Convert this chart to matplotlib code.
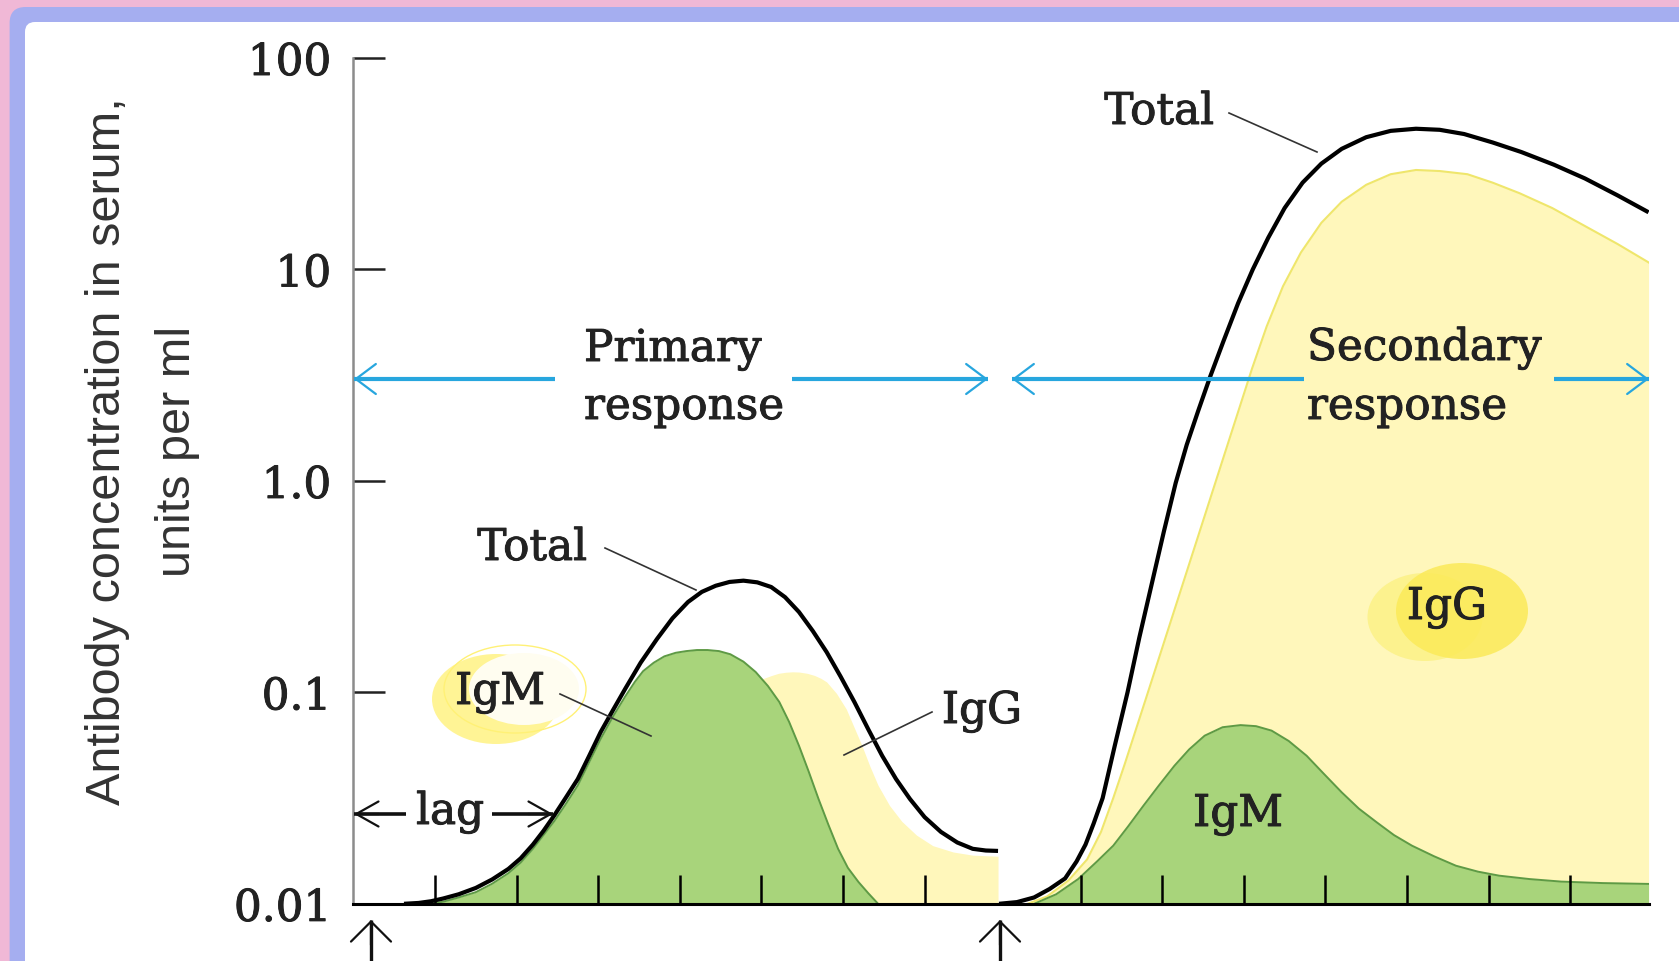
import numpy as np
import matplotlib
matplotlib.use('Agg')
import matplotlib.pyplot as plt
import matplotlib.patheffects as pe
from matplotlib.transforms import Affine2D
from matplotlib.patches import Ellipse, FancyBboxPatch, FancyArrowPatch
from matplotlib.lines import Line2D
from matplotlib.ticker import NullLocator

# --- data: time in tick units, log10(antibody units/ml) ---
primary_total_t = [0.62, 0.80, 0.95, 1.10, 1.29, 1.50, 1.70, 1.90, 2.05, 2.20, 2.33, 2.46, 2.60,
                   2.75, 2.89, 3.03, 3.18, 3.33, 3.52, 3.72, 3.91, 4.10, 4.27, 4.44, 4.61, 4.78,
                   4.95, 5.12, 5.29, 5.46, 5.63, 5.80, 5.97, 6.14, 6.31, 6.48, 6.65, 6.82, 7.00,
                   7.20, 7.40, 7.59, 7.75, 7.90]
primary_total_log = [-2.0, -1.996, -1.988, -1.975, -1.955, -1.925, -1.885, -1.835, -1.785, -1.72,
                     -1.655, -1.583, -1.50, -1.41, -1.30, -1.188, -1.085, -0.984, -0.86, -0.748,
                     -0.65, -0.573, -0.525, -0.496, -0.478, -0.472, -0.48, -0.502, -0.55, -0.62,
                     -0.71, -0.81, -0.925, -1.046, -1.175, -1.30, -1.41, -1.504, -1.59, -1.66,
                     -1.71, -1.74, -1.748, -1.75]

primary_igm_t = [0.95, 1.10, 1.29, 1.50, 1.70, 1.90, 2.05, 2.20, 2.33, 2.46, 2.60, 2.75, 2.89,
                 3.03, 3.18, 3.33, 3.45, 3.55, 3.68, 3.81, 3.95, 4.08, 4.21, 4.34, 4.48, 4.62,
                 4.78, 4.93, 5.08, 5.22, 5.34, 5.46, 5.58, 5.70, 5.82, 5.94, 6.06, 6.19, 6.31, 6.43]
primary_igm_log = [-2.0, -1.99, -1.97, -1.945, -1.905, -1.855, -1.805, -1.74, -1.675, -1.61, -1.53,
                   -1.44, -1.33, -1.22, -1.115, -1.02, -0.95, -0.90, -0.86, -0.83, -0.813, -0.805,
                   -0.80, -0.80, -0.805, -0.82, -0.855, -0.904, -0.97, -1.046, -1.14, -1.252,
                   -1.375, -1.504, -1.625, -1.74, -1.83, -1.897, -1.95, -2.0]

primary_igg_t = [3.0, 3.3, 3.6, 3.9, 4.2, 4.4, 4.6, 4.75, 4.9, 5.02, 5.12, 5.21, 5.30, 5.38, 5.46,
                 5.56, 5.65, 5.73, 5.80, 5.92, 6.04, 6.13, 6.23, 6.33, 6.43, 6.57, 6.72, 6.90,
                 7.10, 7.35, 7.59, 7.90]
primary_igg_log = [-2.0, -1.9, -1.75, -1.56, -1.35, -1.21, -1.08, -1.01, -0.96, -0.935, -0.921,
                   -0.91, -0.905, -0.903, -0.904, -0.91, -0.92, -0.934, -0.951, -1.005, -1.079,
                   -1.16, -1.25, -1.35, -1.44, -1.535, -1.61, -1.675, -1.725, -1.755, -1.77, -1.775]

secondary_total_t = [0.0, 0.22, 0.43, 0.62, 0.81, 0.95, 1.06, 1.16, 1.27, 1.42, 1.575, 1.72, 1.87,
                     2.02, 2.165, 2.30, 2.44, 2.585, 2.75, 2.93, 3.11, 3.30, 3.50, 3.72, 3.95,
                     4.20, 4.50, 4.80, 5.11, 5.40, 5.70, 6.05, 6.40, 6.80, 7.18, 7.58, 7.96]
secondary_total_log = [-2.0, -1.992, -1.97, -1.93, -1.88, -1.80, -1.72, -1.62, -1.50, -1.25, -1.0,
                       -0.74, -0.49, -0.24, -0.01, 0.17, 0.33, 0.49, 0.66, 0.84, 1.0, 1.15, 1.29,
                       1.41, 1.50, 1.57, 1.625, 1.655, 1.665, 1.66, 1.64, 1.60, 1.555, 1.495, 1.43,
                       1.35, 1.27]

secondary_igg_t = [0.35, 0.59, 0.85, 1.08, 1.25, 1.40, 1.54, 1.67, 1.80, 1.94, 2.08, 2.22, 2.40,
                   2.58, 2.76, 2.93, 3.10, 3.28, 3.48, 3.70, 3.95, 4.20, 4.50, 4.80, 5.11, 5.40,
                   5.74, 6.05, 6.38, 6.78, 7.18, 7.58, 7.96]
secondary_igg_log = [-2.0, -1.965, -1.89, -1.79, -1.66, -1.50, -1.34, -1.185, -1.03, -0.862, -0.694,
                     -0.526, -0.31, -0.094, 0.122, 0.326, 0.53, 0.73, 0.92, 1.08, 1.22, 1.32, 1.40,
                     1.45, 1.47, 1.465, 1.45, 1.41, 1.36, 1.29, 1.205, 1.12, 1.033]

secondary_igm_t = [0.43, 0.70, 0.97, 1.20, 1.40, 1.58, 1.77, 1.96, 2.15, 2.33, 2.52, 2.74, 2.96,
                   3.15, 3.34, 3.55, 3.77, 3.98, 4.20, 4.41, 4.63, 4.84, 5.06, 5.33, 5.60, 5.87,
                   6.13, 6.50, 6.89, 7.40, 7.96]
secondary_igm_log = [-2.0, -1.955, -1.883, -1.80, -1.725, -1.635, -1.536, -1.44, -1.347, -1.27,
                     -1.205, -1.165, -1.155, -1.16, -1.181, -1.23, -1.30, -1.385, -1.473, -1.55,
                     -1.615, -1.675, -1.725, -1.775, -1.82, -1.848, -1.867, -1.883, -1.895,
                     -1.902, -1.906]

tick_days = [1, 2, 3, 4, 5, 6, 7]
y_ticks = [0.01, 0.1, 1, 10, 100]
y_labels = ['0.01', '0.1', '1.0', '10', '100']

SECOND = 7.912   # second immunization, in tick units
W, H = 1679, 962

GREEN, GREEN_EDGE = '#a8d47b', '#5e9a45'
YELLOW, YELLOW_EDGE = '#fff7bb', '#efe66c'
BLUE = '#27a6de'
INK = '#222222'
BOLDEN = [pe.withStroke(linewidth=0.7, foreground=INK)]

plt.rcParams['font.family'] = ['DejaVu Serif']

fig = plt.figure(figsize=(16.79, 9.62), dpi=100)
fig.patch.set_facecolor('#f0b8d6')
# pixel coords of the picture, y pointing down
pix = Affine2D().scale(1, -1).translate(0, H)

fig.add_artist(FancyBboxPatch((9.6, 8), W + 40, H + 40, boxstyle='round,pad=0,rounding_size=16',
                              fc='#a5aef0', ec='none', transform=pix, zorder=-10))
fig.add_artist(FancyBboxPatch((25, 23), W + 40, H + 40, boxstyle='round,pad=0,rounding_size=10',
                              fc='white', ec='none', transform=pix, zorder=-9))

ax = fig.add_axes([353.4 / W, 1 - 904.8 / H, (1649 - 353.4) / W, (904.8 - 58.9) / H])
ax.set_facecolor('none')
ax.set_yscale('log')
ax.set_xlim(0, (1649 - 353.4) / 81.6)
ax.set_ylim(0.01, 100)

p_total = 10 ** np.array(primary_total_log)
p_igm = 10 ** np.array(primary_igm_log)
p_igg = 10 ** np.array(primary_igg_log)
s_total = 10 ** np.array(secondary_total_log)
s_igm = 10 ** np.array(secondary_igm_log)
s_igg = 10 ** np.array(secondary_igg_log)

s_total_x = SECOND + np.array(secondary_total_t)
s_igg_x = SECOND + np.array(secondary_igg_t)
s_igm_x = SECOND + np.array(secondary_igm_t)

# fills
ax.fill_between(primary_igg_t, 0.01, p_igg, color=YELLOW, lw=0, zorder=1)
ax.fill_between(s_igg_x, 0.01, s_igg, color=YELLOW, lw=0, zorder=1)
ax.plot(s_igg_x, s_igg, color=YELLOW_EDGE, lw=1.5, zorder=1.1)
ax.fill_between(primary_igm_t, 0.01, p_igm, color=GREEN, lw=0, zorder=1.2)
ax.fill_between(s_igm_x, 0.01, s_igm, color=GREEN, lw=0, zorder=1.2)
ax.plot(primary_igm_t, p_igm, color=GREEN_EDGE, lw=1.4, zorder=1.3)
ax.plot(s_igm_x, s_igm, color=GREEN_EDGE, lw=1.4, zorder=1.3)

# total
ax.plot(primary_total_t, p_total, color='black', lw=3, zorder=3, solid_capstyle='butt',
        solid_joinstyle='round')
ax.plot(s_total_x, s_total, color='black', lw=3, zorder=3, solid_capstyle='butt',
        solid_joinstyle='round')

for side in ['top', 'right']:
    ax.spines[side].set_visible(False)
ax.spines['left'].set_color('#8c8c8c')
ax.spines['left'].set_linewidth(1.8)
ax.spines['bottom'].set_color('black')
ax.spines['bottom'].set_linewidth(2.2)

ax.set_yticks(y_ticks)
ax.set_yticklabels(y_labels)
ax.yaxis.set_minor_locator(NullLocator())
ax.tick_params(axis='y', direction='in', length=23, width=1.8, pad=16, labelsize=31.5,
               color='#222222', labelcolor=INK)
for lab in ax.get_yticklabels():
    lab.set_path_effects(BOLDEN)
ax.set_xticks(tick_days + [SECOND + d for d in tick_days])
ax.tick_params(axis='x', direction='in', length=21, width=1.8, color='black', labelbottom=False)

# y axis title
fig.text(108, 451, 'Antibody concentration in serum,', transform=pix, rotation=90,
         ha='center', va='center', fontsize=35, family='Liberation Sans', color='#333333')
fig.text(178, 451, 'units per ml', transform=pix, rotation=90,
         ha='center', va='center', fontsize=35, family='Liberation Sans', color='#333333')

# yellow marker highlights
fig.add_artist(Ellipse((496, 700), 128, 90, fc='#fff38a', ec='none', alpha=0.9, transform=pix, zorder=1))
fig.add_artist(Ellipse((524, 690), 110, 72, fc='#fffdf0', ec='none', transform=pix, zorder=1.1))
fig.add_artist(Ellipse((515, 690), 142, 88, fc='none', ec='#fff176', lw=1, transform=pix, zorder=1.2))
fig.add_artist(Ellipse((1425, 618), 115, 88, fc='#fcf28e', ec='none', transform=pix, zorder=1))
fig.add_artist(Ellipse((1462, 612), 132, 96, fc='#fbea58', ec='none', alpha=0.85, transform=pix, zorder=1.1))


def label(x, y, s, ha='center'):
    fig.text(x, y, s, transform=pix, ha=ha, va='baseline', fontsize=31.5, color=INK,
             path_effects=BOLDEN)


def leader(x0, y0, x1, y1):
    fig.add_artist(Line2D([x0, x1], [y0, y1], color='#333333', lw=1.2, transform=pix, zorder=4))


def arrow(x0, y0, x1, y1, color, shaft, head, hl, hw):
    # shaft line plus thin open head at (x1, y1)
    fig.add_artist(Line2D([x0, x1], [y0, y1], color=color, lw=shaft, transform=pix,
                          solid_capstyle='butt', zorder=4))
    dx, dy = x1 - x0, y1 - y0
    n = np.hypot(dx, dy)
    tail = (x1 - dx / n * 25, y1 - dy / n * 25)
    fig.add_artist(FancyArrowPatch(tail, (x1, y1), transform=pix, color=color, lw=head,
                                   arrowstyle=f'->,head_length={hl},head_width={hw}',
                                   mutation_scale=20, shrinkA=0, shrinkB=0, zorder=4))


label(532, 561, 'Total')
leader(605, 549, 696, 591)
label(500, 705, 'IgM')
leader(560, 695, 651, 737)
label(982, 724, 'IgG')
leader(932, 713, 844, 756)
label(450, 825, 'lag')
label(1159, 125, 'Total')
leader(1229, 114, 1317, 153)
label(584, 362, 'Primary', ha='left')
label(584, 420, 'response', ha='left')
label(1307, 361, 'Secondary', ha='left')
label(1307, 420, 'response', ha='left')
label(1447, 620, 'IgG')
label(1238, 827, 'IgM')

# response span arrows
arrow(555, 380, 354, 380, BLUE, 3, 1.6, 0.72, 0.54)
arrow(792, 380, 988, 380, BLUE, 3, 1.6, 0.72, 0.54)
arrow(1304, 380, 1012, 380, BLUE, 3, 1.6, 0.72, 0.54)
arrow(1554, 380, 1649, 380, BLUE, 3, 1.6, 0.72, 0.54)

# lag arrows
arrow(406, 815, 354, 815, '#111111', 2.6, 1.6, 0.8, 0.45)
arrow(492, 815, 553, 815, '#111111', 2.6, 1.6, 0.8, 0.45)

# immunization arrows
arrow(371, 975, 371, 921, '#111111', 2.4, 1.6, 0.72, 0.72)
arrow(1000, 975, 1000, 921, '#111111', 2.4, 1.6, 0.72, 0.72)

fig.savefig('out.png', dpi=100, facecolor=fig.get_facecolor())
